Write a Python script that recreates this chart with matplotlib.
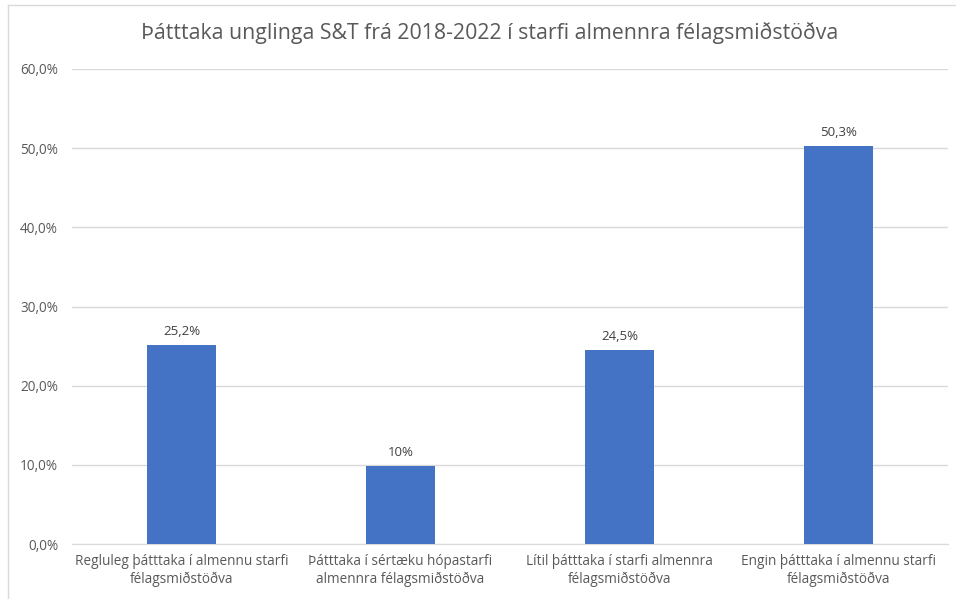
import matplotlib.pyplot as plt
from matplotlib.ticker import FuncFormatter
import matplotlib.lines as mlines

# Data
categories = [
    "Regluleg þátttaka í almennu starfi\nfélagsmiðstöðva",
    "Þátttaka í sértæku hópastarfi\nalmennra félagsmiðstöðva",
    "Lítil þátttaka í starfi almennra\nfélagsmiðstöðva",
    "Engin þátttaka í almennu starfi\nfélagsmiðstöðva",
]
values = [25.2, 9.8, 24.5, 50.3]
value_labels = ["25,2%", "10%", "24,5%", "50,3%"]

plt.rcParams['font.family'] = ['Open Sans', 'DejaVu Sans']
text_color = '#595959'

fig = plt.figure(figsize=(9.56, 5.99), dpi=100)
ax = fig.add_axes([72 / 956, 1 - 544 / 599, (948 - 72) / 956, (544 - 69) / 599])

x = range(len(categories))
bars = ax.bar(x, values, width=0.315, color='#4472C4', zorder=3)

# value labels above bars
for bar, lab in zip(bars, value_labels):
    ax.annotate(lab, (bar.get_x() + bar.get_width() / 2, bar.get_height()),
                xytext=(0, 5), textcoords='offset points', ha='center', va='bottom',
                fontsize=9.5, color='#404040')

ax.set_ylim(0, 60)
ax.set_xlim(-0.5, 3.5)
ax.set_yticks(range(0, 61, 10))
ax.yaxis.set_major_formatter(FuncFormatter(lambda v, p: f"{v:.1f}%".replace('.', ',')))
ax.set_xticks(list(x))
ax.set_xticklabels(categories, linespacing=1.25)

ax.grid(axis='y', color='#d9d9d9', linewidth=1, zorder=0)
for s in ['top', 'right', 'left']:
    ax.spines[s].set_visible(False)
ax.spines['bottom'].set_color('#d9d9d9')
ax.tick_params(axis='both', length=0, colors=text_color, labelsize=9.8)
ax.tick_params(axis='y', pad=10)
ax.tick_params(axis='x', pad=7)

fig.text(490 / 956, 1 - 33 / 599, "Þátttaka unglinga S&T frá 2018-2022 í starfi almennra félagsmiðstöðva",
         ha='center', va='center', fontsize=15.3, color=text_color)

# chart border (left and top edges visible in the reference)
fig.add_artist(mlines.Line2D([8 / 956, 8 / 956], [0, 1 - 5 / 599], color='#d9d9d9', linewidth=1))
fig.add_artist(mlines.Line2D([8 / 956, 1], [1 - 5 / 599, 1 - 5 / 599], color='#d9d9d9', linewidth=1))

fig.savefig('out.png', dpi=100)
